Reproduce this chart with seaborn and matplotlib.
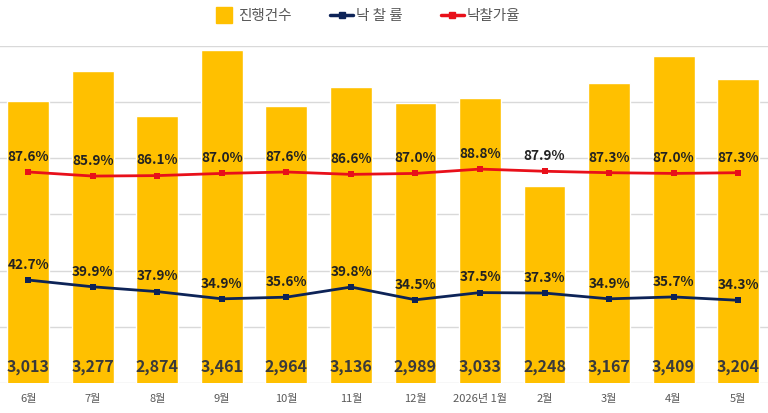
import numpy as np
import pandas as pd
import matplotlib
matplotlib.use("Agg")
import matplotlib.pyplot as plt
import seaborn as sns
from matplotlib.lines import Line2D

# data
months = ["6월", "7월", "8월", "9월", "10월", "11월", "12월",
          "2026년 1월", "2월", "3월", "4월", "5월"]
counts = [3013, 3277, 2874, 3461, 2964, 3136, 2989, 3033, 2248, 3167, 3409, 3204]
sale_rate = [42.7, 39.9, 37.9, 34.9, 35.6, 39.8, 34.5, 37.5, 37.3, 34.9, 35.7, 34.3]
price_rate = [87.6, 85.9, 86.1, 87.0, 87.6, 86.6, 87.0, 88.8, 87.9, 87.3, 87.0, 87.3]

sns.set_style("white")
plt.rcParams['font.family'] = ['Noto Sans CJK KR', 'DejaVu Sans']

bar_c = "#FFC000"
navy = "#0D2357"
red = "#E8101A"

df = pd.DataFrame({"month": months, "count": counts})

fig = plt.figure(figsize=(7.68, 4.13), dpi=100)
ax = fig.add_axes([-0.005, 0.073, 1.008, 0.816])

sns.barplot(data=df, x="month", y="count", color=bar_c, width=0.65,
            saturation=1, ax=ax, zorder=2)
ax.set_ylim(500, 3500)
ax.set_yticks(np.arange(500, 3501, 500))
ax.yaxis.grid(True, color="#d9d9d9", lw=1, zorder=0)
ax.set_axisbelow(True)
ax.set_yticklabels([])
ax.set_ylabel("")
ax.set_xlabel("")
ax.tick_params(axis="y", length=0)
ax.tick_params(axis="x", length=0, labelsize=8, labelcolor="#595959", pad=8)
ax.set_xlim(-0.5, len(months) - 0.5)
sns.despine(ax=ax, left=True, right=True, top=True, bottom=True)

for i, v in enumerate(counts):
    ax.text(i, 640, f"{v:,}", ha="center", va="center", fontsize=11.5,
            fontweight="bold", color="#3a3a3a", zorder=5)

ax2 = ax.twinx()
x = np.arange(len(months))
sns.lineplot(x=x, y=price_rate, color=red, lw=2, marker="s", markersize=5,
             markeredgewidth=0, ax=ax2, zorder=3)
sns.lineplot(x=x, y=sale_rate, color=navy, lw=2, marker="s", markersize=5,
             markeredgewidth=0, ax=ax2, zorder=3)
ax2.set_ylim(0, 140)
ax2.set_yticks([])
ax2.set_xlim(-0.5, len(months) - 0.5)
sns.despine(ax=ax2, left=True, right=True, top=True, bottom=True)

for i in range(len(months)):
    ax2.text(i, price_rate[i] + 6.3, f"{price_rate[i]:.1f}%", ha="center",
             va="center", fontsize=9.8, fontweight="bold", color="#222222")
    ax2.text(i, sale_rate[i] + 6.3, f"{sale_rate[i]:.1f}%", ha="center",
             va="center", fontsize=9.8, fontweight="bold", color="#222222")

handles = [
    Line2D([0], [0], color=bar_c, lw=0, marker="s", markersize=11),
    Line2D([0], [0], color=navy, lw=2.5, marker="s", markersize=4),
    Line2D([0], [0], color=red, lw=2.5, marker="s", markersize=4),
]
fig.legend(handles, ["진행건수", "낙 찰 률", "낙찰가율"], loc="center",
           bbox_to_anchor=(0.477, 0.962), ncol=3, frameon=False, fontsize=10.5,
           labelcolor="#595959", handlelength=1.6, handletextpad=0.2,
           columnspacing=2.6)

fig.savefig("out.png", dpi=100)
